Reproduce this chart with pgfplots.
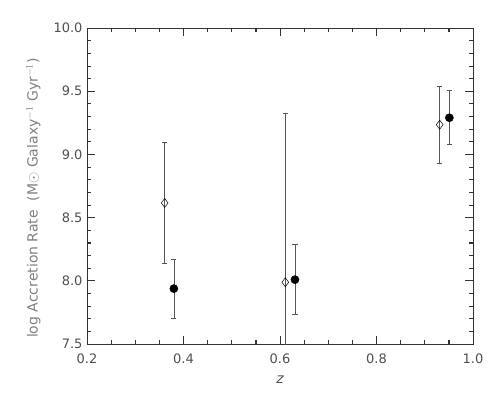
\documentclass[border=0pt]{standalone}
\usepackage{pgfplots}
\usepackage{fontspec}
\setmainfont{DejaVu Sans}
\pgfplotsset{compat=1.18}

\definecolor{axisgray}{HTML}{333333}
\definecolor{labgray}{HTML}{505050}
\definecolor{ylabgray}{HTML}{808080}
\definecolor{errgray}{HTML}{555555}

\begin{document}
\begin{tikzpicture}
\begin{axis}[
    scale only axis,
    width=386pt, height=316pt,
    xmin=0.2, xmax=1.0, ymin=7.5, ymax=10.0,
    xtick distance=0.2,
    ytick distance=0.5,
    minor x tick num=3,
    minor y tick num=4,
    tick align=inside,
    tickwidth=8pt, subtickwidth=4pt,
    every tick/.append style={draw=axisgray, line width=0.8pt},
    axis line style={axisgray},
    /pgf/number format/fixed,
    /pgf/number format/fixed zerofill,
    /pgf/number format/precision=1,
    /pgf/number format/assume math mode=true,
    ticklabel style={font=\fontsize{13}{15}\selectfont, text=labgray},
    xticklabel style={yshift=-6pt},
    yticklabel style={xshift=-1pt},
    xlabel={\itshape z},
    xlabel style={font=\fontsize{14}{16}\selectfont, text=labgray, yshift=-6pt},
    ylabel={log Accretion Rate\ \ (M$\odot$ Galaxy$^{-1}$ Gyr$^{-1}$)},
    ylabel style={font=\fontsize{14}{16}\selectfont, text=ylabgray, yshift=6pt, xshift=-12pt},
    clip=true,
    % tick marks on all four sides, drawn once the axis is set up
    after end axis/.code={
        \foreach \i in {0,...,16} {
            \pgfmathsetmacro\xx{0.2+0.05*\i}
            \draw[axisgray, line width=0.7pt] (axis cs:\xx,7.5) -- ++(0,4pt);
            \draw[axisgray, line width=0.7pt] (axis cs:\xx,10) -- ++(0,-4pt);
        }
        \foreach \i in {0,...,4} {
            \pgfmathsetmacro\xx{0.2+0.2*\i}
            \draw[axisgray, line width=0.7pt] (axis cs:\xx,7.5) -- ++(0,8pt);
            \draw[axisgray, line width=0.7pt] (axis cs:\xx,10) -- ++(0,-8pt);
        }
        \foreach \i in {0,...,25} {
            \pgfmathsetmacro\yy{7.5+0.1*\i}
            \draw[axisgray, line width=0.7pt] (axis cs:0.2,\yy) -- ++(4pt,0);
            \draw[axisgray, line width=0.7pt] (axis cs:1.0,\yy) -- ++(-4pt,0);
        }
        \foreach \i in {0,...,5} {
            \pgfmathsetmacro\yy{7.5+0.5*\i}
            \draw[axisgray, line width=0.7pt] (axis cs:0.2,\yy) -- ++(8pt,0);
            \draw[axisgray, line width=0.7pt] (axis cs:1.0,\yy) -- ++(-8pt,0);
        }
    },
]
% open diamonds
\addplot[only marks, mark=diamond, mark size=4.5pt, mark options={black, line width=0.5pt, fill=white},
    error bars/.cd, y dir=both, y explicit,
    error bar style={errgray, line width=0.6pt},
    error mark options={rotate=90, mark size=2.6pt, line width=0.5pt}]
    table[x=x, y=y, y error plus=ep, y error minus=em] {
    x      y      ep     em
    0.361  8.616  0.480  0.478
    0.611  7.988  1.334  1.334
    0.931  9.235  0.306  0.303
};
% filled circles
\addplot[only marks, mark=*, mark size=4.1pt, mark options={black, fill=black},
    error bars/.cd, y dir=both, y explicit,
    error bar style={errgray, line width=0.6pt},
    error mark options={rotate=90, mark size=2.6pt, line width=0.5pt}]
    table[x=x, y=y, y error plus=ep, y error minus=em] {
    x      y      ep     em
    0.380  7.938  0.235  0.235
    0.631  8.009  0.280  0.277
    0.951  9.290  0.214  0.210
};
\end{axis}
\path (-87pt,-56pt) rectangle (413pt,344pt);
\end{tikzpicture}
\end{document}
